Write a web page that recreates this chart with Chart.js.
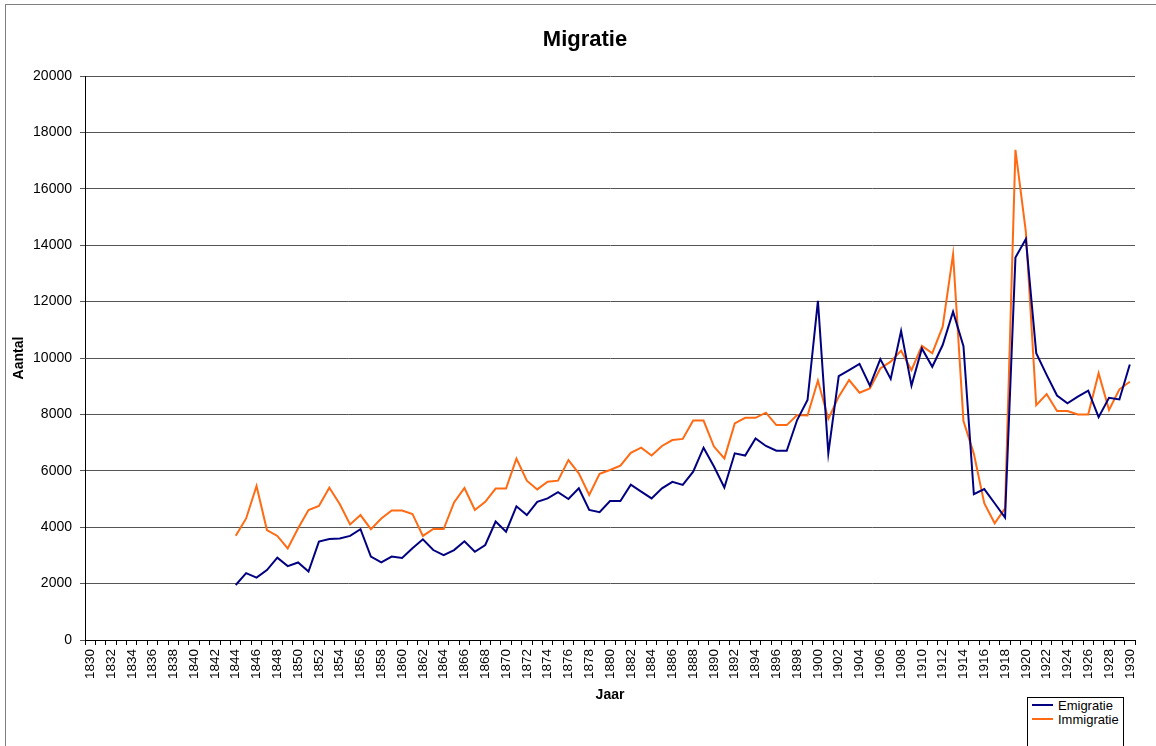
<!DOCTYPE html>
<html>
<head>
<meta charset="utf-8">
<title>Migratie</title>
<script src="https://cdn.jsdelivr.net/npm/chart.js@4/dist/chart.umd.min.js"></script>
<style>
  body { margin: 0; background: #fff; font-family: "Liberation Sans", Arial, sans-serif; }
  #wrap { position: relative; width: 1156px; height: 746px; overflow: hidden; }
  #frame { position: absolute; left: 5px; top: 4px; width: 1200px; height: 800px; border: 1px solid #808080; }
  #migChart { position: absolute; left: 0; top: 0; }
  #title {
    position: absolute; left: 485px; top: 26px; width: 200px; text-align: center;
    font-size: 22px; font-weight: bold; line-height: 26px; color: #000;
  }
  #legend {
    position: absolute; left: 1027px; top: 697px; width: 95px; height: 60px;
    border: 1px solid #000; background: #fff; font-size: 13px; color: #000;
  }
  #legend div { display: flex; align-items: center; height: 14px; }
  #legend span.swatch { display: inline-block; width: 21px; height: 2px; margin: 0 5px 0 4px; }
</style>
</head>
<body>
<div id="wrap">
  <div id="frame"></div>
  <canvas id="migChart" width="1156" height="746"></canvas>
  <div id="title">Migratie</div>
  <div id="legend"></div>
</div>
<script>
// categories: one per year
const years = Array.from({ length: 101 }, (_, i) => String(1830 + i));

// no data before 1844
const leadGap = [null, null, null, null, null, null, null, null, null, null, null, null, null, null];

// 1844 - 1930
const emigratie = [
  1950, 2370, 2210, 2480, 2920, 2620, 2750, 2430, 3490, 3580,
  3600, 3690, 3930, 2960, 2750, 2960, 2910, 3250, 3570, 3190,
  3010, 3190, 3500, 3130, 3370, 4200, 3840, 4740, 4430, 4900,
  5020, 5240, 5000, 5380, 4610, 4530, 4930, 4930, 5510, 5260,
  5020, 5380, 5610, 5500, 5970, 6820, 6150, 5410, 6620, 6540,
  7150, 6880, 6710, 6710, 7800, 8510, 12030, 6620, 9360, 9570,
  9790, 9020, 9960, 9260, 10960, 9020, 10340, 9690, 10460, 11640,
  10420, 5170, 5350, 4850, 4340, 13560, 14220, 10170, 9400, 8670,
  8390, 8630, 8840, 7900, 8590, 8530, 9770
];

const immigratie = [
  3700, 4310, 5460, 3900, 3690, 3250, 3960, 4610, 4750, 5400,
  4820, 4100, 4430, 3930, 4310, 4590, 4590, 4470, 3690, 3935,
  3935, 4880, 5390, 4610, 4900, 5370, 5370, 6430, 5650, 5340,
  5610, 5650, 6380, 5910, 5140, 5890, 6030, 6180, 6640, 6820,
  6540, 6880, 7090, 7130, 7780, 7780, 6860, 6440, 7680, 7880,
  7880, 8060, 7620, 7620, 7980, 7960, 9200, 7840, 8630, 9220,
  8770, 8920, 9630, 9870, 10260, 9570, 10430, 10170, 11110, 13680,
  7760, 6600, 4850, 4140, 4670, 17380, 14480, 8330, 8720, 8120,
  8120, 8000, 8000, 9460, 8160, 8890, 9160
];

const seriesNames = ["Emigratie", "Immigratie"];
const seriesColors = ["#000080", "#FF6A13"];

const FONT = "'Liberation Sans', Arial, sans-serif";

const chart = new Chart(document.getElementById("migChart"), {
  type: "line",
  data: {
    labels: years,
    datasets: [
      {
        label: seriesNames[0],
        data: leadGap.concat(emigratie),
        borderColor: seriesColors[0],
        backgroundColor: seriesColors[0],
        borderWidth: 2,
        pointRadius: 0,
        tension: 0,
      },
      {
        label: seriesNames[1],
        data: leadGap.concat(immigratie),
        borderColor: seriesColors[1],
        backgroundColor: seriesColors[1],
        borderWidth: 2,
        pointRadius: 0,
        tension: 0,
      },
    ],
  },
  options: {
    responsive: false,
    animation: false,
    devicePixelRatio: 1,
    // title is an html element above the canvas, so the top is plain padding
    layout: { padding: { left: 0, right: 21, top: 76, bottom: 0 } },
    plugins: {
      legend: { display: false },
      tooltip: { enabled: false },
      title: { display: false },
    },
    scales: {
      x: {
        offset: true,
        afterFit: (s) => { s.height = 106; },
        grid: {
          display: true,
          drawOnChartArea: false,
          drawTicks: true,
          tickLength: 5,
          color: "#000",
          offset: true,
        },
        border: { display: true, color: "#000", width: 1 },
        ticks: {
          autoSkip: false,
          maxRotation: 90,
          minRotation: 90,
          padding: 4,
          color: "#000",
          font: { family: FONT, size: 13.5 },
          callback: function (val) {
            const y = this.getLabelForValue(val);
            return Number(y) % 2 === 0 ? y : "";
          },
        },
        title: {
          display: true,
          text: "Jaar",
          color: "#000",
          font: { family: FONT, size: 14, weight: "bold" },
          padding: { top: 4, bottom: 42 },
        },
      },
      y: {
        min: 0,
        max: 20000,
        afterFit: (s) => { s.width = 85; },
        grid: {
          color: "#555",
          drawTicks: true,
          tickLength: 5,
        },
        border: { display: true, color: "#000", width: 1 },
        ticks: {
          stepSize: 2000,
          padding: 8,
          color: "#000",
          font: { family: FONT, size: 14 },
          callback: (v) => String(v),
        },
        title: {
          display: true,
          text: "Aantal",
          color: "#000",
          font: { family: FONT, size: 14, weight: "bold" },
          padding: { top: 11, bottom: 0 },
        },
      },
    },
  },
});

// legend box, vertical like the original
const legendEl = document.getElementById("legend");
seriesNames.forEach((name, i) => {
  const row = document.createElement("div");
  const sw = document.createElement("span");
  sw.className = "swatch";
  sw.style.background = seriesColors[i];
  row.appendChild(sw);
  row.appendChild(document.createTextNode(name));
  legendEl.appendChild(row);
});
</script>
</body>
</html>
